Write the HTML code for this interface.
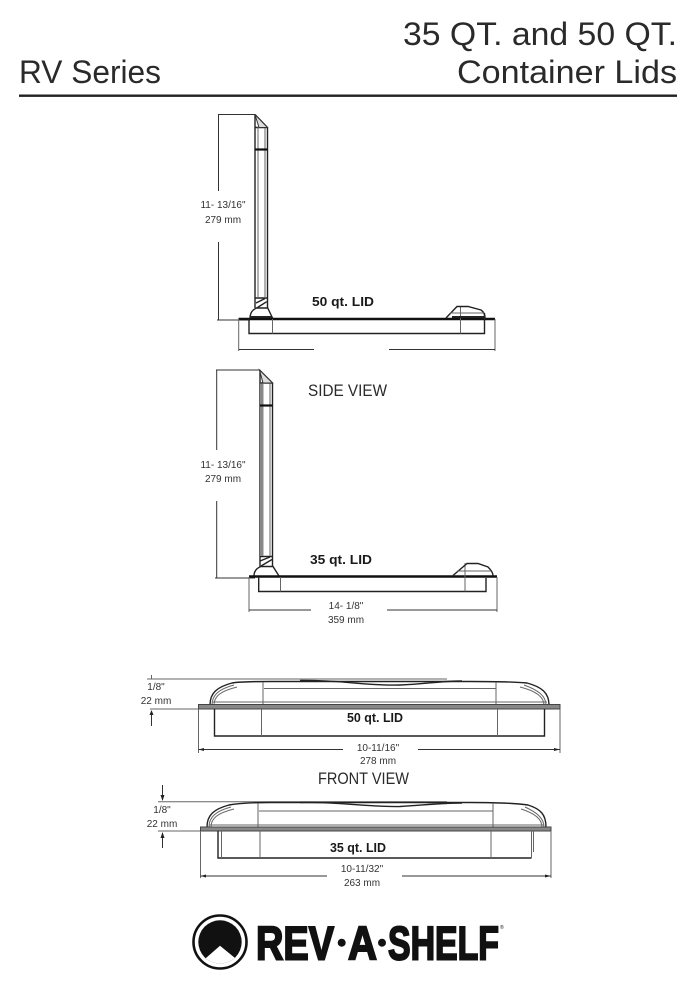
<!DOCTYPE html>
<html><head><meta charset="utf-8"><style>
html,body{margin:0;padding:0;background:#fff}
svg{display:block}
text{font-family:"Liberation Sans",sans-serif;fill:#2a2a2a}
.d{font-size:10px;text-anchor:middle;fill:#333}
.b{font-size:13px;font-weight:bold;text-anchor:middle;fill:#1a1a1a}
.v{font-size:16.5px;text-anchor:middle;fill:#2a2a2a}
.l{fill:none;stroke:#333;stroke-width:1}
.m{fill:none;stroke:#222;stroke-width:1.4}
.g{fill:none;stroke:#666;stroke-width:1}
.h{fill:none;stroke:#111;stroke-width:2.6}
.k{fill:#111;font-weight:bold;font-size:47px;stroke:#111;stroke-width:2}
</style></head><body>
<svg width="696" height="990" viewBox="0 0 696 990" xmlns="http://www.w3.org/2000/svg">
<defs><clipPath id="c"><circle cx="220" cy="942" r="21.700"/></clipPath></defs>
<text x="677" y="45" font-size="32" text-anchor="end" textLength="274" lengthAdjust="spacingAndGlyphs">35 QT. and 50 QT.</text>
<text x="677" y="83" font-size="32" text-anchor="end" textLength="220" lengthAdjust="spacingAndGlyphs">Container Lids</text>
<text x="19" y="83" font-size="32" textLength="142" lengthAdjust="spacingAndGlyphs">RV Series</text>
<rect x="19" y="94.500" width="658" height="2.400" fill="#222"/>

<!-- Side view 50 -->
<path class="l" d="M218 114.500H255M218.500 114.500V191M218.500 242V320M217 320H250"/>
<path class="m" d="M255 114.500L267.500 127.500V308M255 114.500V308M255 127.500H267.500M255 298H267.500"/>
<path class="g" d="M258 127V298M265 127V298"/>
<path d="M255 114.500L267.500 127.500H259Z" fill="#ddd" stroke="#333"/>
<path d="M255 149.500H267.500" stroke="#111" stroke-width="2.200"/>
<path class="m" d="M256.700 308L266.700 301.700M256 303L265 298.500"/>
<path class="m" d="M250 319C250 313 252 310 256.700 308H267.700L273 319"/>
<path class="h" d="M238.500 319H495"/>
<path d="M250 317H272" stroke="#222" stroke-width="2"/>
<path class="m" d="M249 319V333.500H484.500V313"/>
<path class="g" d="M272.500 319V333.500M460.500 306V333.500M238.700 319V351M495 319V351"/>
<path class="m" d="M446 318L457 306.500H468L481 310C484 312 485 315 485 318"/>
<path class="g" d="M450 313H484"/>
<path d="M452 317H484" stroke="#222" stroke-width="2"/>
<path class="l" d="M238.700 349.500H314M389 349.500H495"/>
<text class="d" x="223" y="208">11- 13/16"</text>
<text class="d" x="223" y="223">279 mm</text>
<text class="b" x="343" y="306" textLength="62" lengthAdjust="spacingAndGlyphs">50 qt. LID</text>

<!-- Side view 35 -->
<path class="l" d="M216 370H260M216.700 370V450M216.700 501V578M215 578H255"/>
<path class="m" d="M259.500 370L272.500 383V566.500M260 370V566.500M260 383H272.500M260 556.500H272.500"/>
<path class="g" d="M263 383V556M270 383V556"/>
<path d="M260 383.500H263.500V556H260Z" fill="#888"/>
<path d="M259.500 370L272.500 383H263Z" fill="#ddd" stroke="#333"/>
<path d="M260 405.500H272.500" stroke="#111" stroke-width="2.200"/>
<path class="m" d="M261 566L272 559.500M260 561L270 557"/>
<path class="m" d="M254 576C254 571 257 568 261 566.500H273L279 576"/>
<path class="h" d="M249 576.500H497"/>
<path class="m" d="M258.700 577V591.500H486V578"/>
<path class="g" d="M280.500 577V591.500M465 563V591.500M249 577V612M497 577V612"/>
<path class="m" d="M453 575.500L467 563.500H478L488 567C491 570 493 573 493 575.500"/>
<path class="g" d="M457 571H491"/>
<path class="l" d="M249 610H311M387 610H497"/>
<text class="d" x="223" y="468">11- 13/16"</text>
<text class="d" x="223" y="482">279 mm</text>
<text class="v" x="347.500" y="396" textLength="79" lengthAdjust="spacingAndGlyphs">SIDE VIEW</text>
<text class="b" x="341" y="564" textLength="62" lengthAdjust="spacingAndGlyphs">35 qt. LID</text>
<text class="d" x="346" y="609">14- 1/8"</text>
<text class="d" x="346" y="623">359 mm</text>

<!-- Front 50 -->
<path class="g" d="M147 679H447M151.500 675V679M150 709H205"/>
<path class="l" d="M151.500 711V726"/>
<path d="M151.500 710L149.500 715H153.500Z" fill="#222"/>
<path class="m" d="M210 705C210 693 217 687 232 683C240 681.500 255 681.500 270 681.500H470C490 681.500 510 681.500 527 683C542 687 549 693 549 705"/>
<path class="g" d="M212 705C212 695 219 689 234 685M214 705C214 696 221 691 237 687M546 705C546 696 538 690 524 685M544 705C544 697 536 691 520 687"/>
<path class="g" d="M264 688.500H496M212 702H547M263 682V705M496 682V705"/>
<path class="m" d="M300 680.500C345 680 365 686 400 685C425 684 440 681 462 681"/>
<rect x="198.500" y="704.500" width="361.500" height="4.500" fill="#888" stroke="#444" stroke-width="1"/>
<path class="m" d="M214.500 709V736H544.500V709"/>
<path class="g" d="M261.500 709V736M497.500 709V736M198.500 709V753M560 709V753"/>
<path class="l" d="M198.500 749.500H343M418 749.500H560"/>
<path d="M198.500 749.500L204 748V751ZM560 749.500L554 748V751Z" fill="#222"/>
<text class="d" x="156" y="690">1/8"</text>
<text class="d" x="156" y="704">22 mm</text>
<text class="b" x="375" y="722" textLength="56" lengthAdjust="spacingAndGlyphs">50 qt. LID</text>
<text class="d" x="378" y="751">10-11/16"</text>
<text class="d" x="378" y="764">278 mm</text>
<text class="v" x="363.500" y="784" textLength="91" lengthAdjust="spacingAndGlyphs">FRONT VIEW</text>

<!-- Front 35 -->
<path class="g" d="M158 801.700H447M158 831H205"/>
<path class="l" d="M162.500 785V800M162.500 833V848"/>
<path d="M162.500 801L160.500 795H164.500ZM162.500 832L160.500 838H164.500Z" fill="#222"/>
<path class="m" d="M207 827C207 815 214 809 229 805C240 803 255 802.500 270 802.500H470C490 802.500 515 803 528 805C541 809 546 815 546 827"/>
<path class="g" d="M209 827C209 817 216 811 231 807M211 827C211 818 218 813 234 809M544 827C544 818 536 812 525 807M542 827C542 819 534 813 521 809"/>
<path class="g" d="M259 811H493M209 825H544M258 803V827M493 803V827"/>
<path class="m" d="M300 802.500C345 802 365 807 400 806.500C425 805 440 803 462 803"/>
<rect x="200.500" y="827" width="350.500" height="4" fill="#888" stroke="#444" stroke-width="1"/>
<path class="m" d="M218 831V858H531.500"/>
<path class="g" d="M221.500 831V858M260 831V858M491 831V858M531.500 831V858M533.500 831V852M200.500 831V878M551 831V878"/>
<path class="l" d="M200.500 876H327M402 876H551"/>
<path d="M200.500 876L206 874.500V877.500ZM551 876L545 874.500V877.500Z" fill="#222"/>
<text class="d" x="162" y="813">1/8"</text>
<text class="d" x="162" y="827">22 mm</text>
<text class="b" x="358" y="852" textLength="56" lengthAdjust="spacingAndGlyphs">35 qt. LID</text>
<text class="d" x="362" y="872">10-11/32"</text>
<text class="d" x="362" y="886">263 mm</text>

<!-- Logo -->
<circle cx="220" cy="942" r="26.500" fill="none" stroke="#111" stroke-width="2.600"/>
<circle cx="220" cy="942" r="21.700" fill="#111"/>
<path d="M220 945.700L206 958L206 968H235V958Z" fill="#fff" clip-path="url(#c)"/>
<text class="k" x="256" y="959.500" textLength="78" lengthAdjust="spacingAndGlyphs">REV</text>
<circle cx="341.700" cy="942.700" r="4" fill="#111"/>
<text class="k" x="348" y="959.500" textLength="29" lengthAdjust="spacingAndGlyphs">A</text>
<circle cx="382" cy="942.700" r="4" fill="#111"/>
<text class="k" x="388" y="959.500" textLength="111" lengthAdjust="spacingAndGlyphs">SHELF</text>
<text x="500" y="929" font-size="5" style="fill:#111">®</text>
</svg>
</body></html>
